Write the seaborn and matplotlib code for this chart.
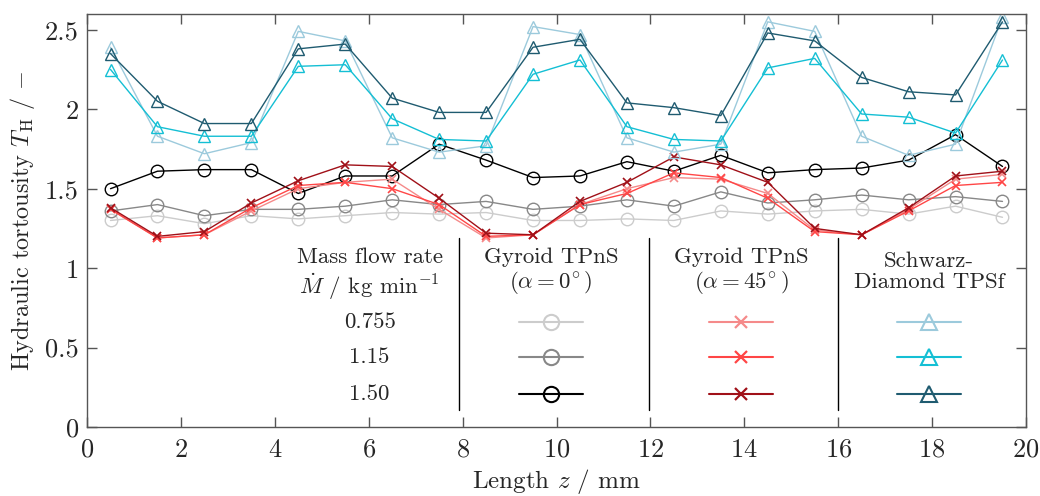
import numpy as np
import pandas as pd
import matplotlib
matplotlib.use("Agg")
import matplotlib.pyplot as plt
import seaborn as sns
from matplotlib.lines import Line2D

# ---------------- data ----------------
z = [0.5, 1.5, 2.5, 3.5, 4.5, 5.5, 6.5, 7.5, 8.5, 9.5,
     10.5, 11.5, 12.5, 13.5, 14.5, 15.5, 16.5, 17.5, 18.5, 19.5]

flow_labels = ["0.755", "1.15", "1.50"]

gyr0_0755 = [1.30, 1.33, 1.28, 1.33, 1.31, 1.33, 1.35, 1.34, 1.35, 1.30,
             1.30, 1.31, 1.30, 1.36, 1.34, 1.36, 1.37, 1.34, 1.39, 1.32]
gyr0_115 = [1.36, 1.40, 1.33, 1.37, 1.37, 1.39, 1.43, 1.40, 1.42, 1.37,
            1.39, 1.43, 1.39, 1.48, 1.41, 1.43, 1.46, 1.43, 1.45, 1.42]
gyr0_150 = [1.50, 1.61, 1.62, 1.62, 1.47, 1.58, 1.58, 1.78, 1.68, 1.57,
            1.58, 1.67, 1.61, 1.71, 1.60, 1.62, 1.63, 1.68, 1.84, 1.64]

gyr45_0755 = [1.37, 1.19, 1.21, 1.36, 1.50, 1.54, 1.56, 1.37, 1.19, 1.21,
              1.40, 1.50, 1.57, 1.56, 1.47, 1.24, 1.21, 1.37, 1.56, 1.59]
gyr45_115 = [1.37, 1.19, 1.21, 1.38, 1.52, 1.54, 1.50, 1.40, 1.20, 1.21,
             1.40, 1.47, 1.60, 1.57, 1.44, 1.23, 1.21, 1.36, 1.52, 1.54]
gyr45_150 = [1.38, 1.20, 1.23, 1.41, 1.55, 1.65, 1.64, 1.44, 1.22, 1.21,
             1.42, 1.54, 1.70, 1.65, 1.54, 1.25, 1.21, 1.38, 1.58, 1.61]

sd_0755 = [2.39, 1.83, 1.72, 1.79, 2.49, 2.43, 1.82, 1.73, 1.77, 2.52,
           2.47, 1.82, 1.73, 1.78, 2.55, 2.49, 1.83, 1.71, 1.78, 2.58]
sd_115 = [2.25, 1.89, 1.83, 1.83, 2.27, 2.28, 1.94, 1.81, 1.80, 2.22,
          2.31, 1.89, 1.81, 1.80, 2.26, 2.32, 1.97, 1.95, 1.85, 2.31]
sd_150 = [2.35, 2.05, 1.91, 1.91, 2.38, 2.41, 2.07, 1.98, 1.98, 2.39,
          2.44, 2.04, 2.01, 1.96, 2.48, 2.43, 2.20, 2.11, 2.09, 2.55]

structures = ["Gyroid TPnS\n" + r"$(\alpha = 0^{\!\circ})$",
              "Gyroid TPnS\n" + r"$(\alpha = 45^{\!\circ})$",
              "Schwarz-\nDiamond TPSf"]
series = {
    structures[0]: [gyr0_0755, gyr0_115, gyr0_150],
    structures[1]: [gyr45_0755, gyr45_115, gyr45_150],
    structures[2]: [sd_0755, sd_115, sd_150],
}
colors = {
    structures[0]: ["#cccccc", "#888888", "#000000"],
    structures[1]: ["#f58a8a", "#ff4646", "#a01018"],
    structures[2]: ["#9ccadc", "#14bfd4", "#1f5b70"],
}
markers = {structures[0]: "o", structures[1]: "x", structures[2]: "^"}

# ---------------- style ----------------
sns.set_theme(style="ticks")
plt.rcParams.update({
    "font.family": "serif",
    "font.serif": ["cmr10", "DejaVu Serif"],
    "mathtext.fontset": "cm",
    "axes.formatter.use_mathtext": True,
    "axes.unicode_minus": False,
    "font.size": 16,
})

fig = plt.figure(figsize=(10.4, 4.96), dpi=100)
ax = fig.add_axes([0.0837, 0.139, 0.9028, 0.833])

for s in structures:
    for i, vals in enumerate(series[s]):
        df = pd.DataFrame({"z": z, "T": vals})
        mk = markers[s]
        kw = dict(markerfacecolor="none", markeredgecolor=colors[s][i],
                  markeredgewidth=1.0, markersize=9)
        if mk == "x":
            kw = dict(markeredgecolor=colors[s][i], markeredgewidth=1.2,
                      markersize=6)
        sns.lineplot(data=df, x="z", y="T", ax=ax, color=colors[s][i],
                     marker=mk, linewidth=1.0, legend=False, **kw)

ax.set_xlim(0, 20)
ax.set_ylim(0, 2.6)
ax.set_xticks(np.arange(0, 21, 2))
ax.set_yticks([0, 0.5, 1, 1.5, 2, 2.5])
ax.set_yticklabels(["0", "0.5", "1", "1.5", "2", "2.5"])
ax.tick_params(direction="in", top=True, right=True, length=7, width=1,
               color="#555555", labelsize=19)
ax.tick_params(axis="x", pad=8)
ax.tick_params(axis="y", pad=6)
for sp in ax.spines.values():
    sp.set_color("#555555")
    sp.set_linewidth(1.0)
ax.set_xlabel(r"Length $z$ / mm", fontsize=18, labelpad=4)
ax.set_ylabel(r"Hydraulic tortousity $T_\mathrm{H}$ / $-$", fontsize=17.5, labelpad=6)

# ---------------- legend table ----------------
tr = ax.transAxes
for xs in [0.396, 0.5985, 0.7998]:
    ax.add_line(Line2D([xs, xs], [0.041, 0.458], transform=tr, color="black",
                       linewidth=1.0))
ax.text(0.301, 0.412, "Mass flow rate", transform=tr, ha="center", va="center",
        fontsize=16.5)
ax.text(0.301, 0.339, r"$\dot{M}$ / kg min$^{-1}$", transform=tr, ha="center",
        va="center", fontsize=16.5)
rows_y = [0.254, 0.1695, 0.080]
for lab, yy in zip(flow_labels, rows_y):
    ax.text(0.301, yy, lab, transform=tr, ha="center", va="center", fontsize=16.5)

col_x = [0.494, 0.6965, 0.8967]
for s, cx in zip(structures, col_x):
    ax.text(cx, 0.376, s, transform=tr, ha="center", va="center", fontsize=16.5,
            linespacing=1.15)
    for i, yy in enumerate(rows_y):
        mk = markers[s]
        if mk == "x":
            kw = dict(markeredgecolor=colors[s][i], markeredgewidth=1.6, markersize=8)
        else:
            kw = dict(markerfacecolor="none", markeredgecolor=colors[s][i],
                      markeredgewidth=1.5, markersize=11)
        ax.add_line(Line2D([cx - 0.034, cx + 0.034], [yy, yy], transform=tr,
                           color=colors[s][i], linewidth=1.5))
        ax.add_line(Line2D([cx], [yy], transform=tr, linestyle="none",
                           marker=mk, **kw))

fig.savefig("out.png", dpi=100)
